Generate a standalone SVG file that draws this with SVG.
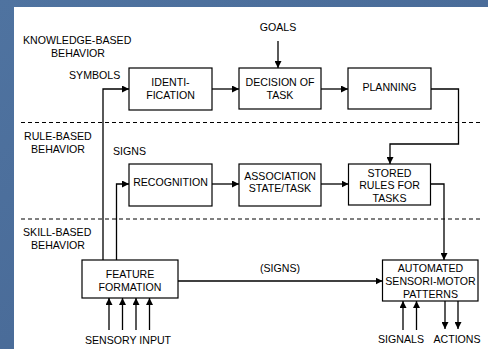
<svg xmlns="http://www.w3.org/2000/svg" width="488" height="349" viewBox="0 0 488 349">
<defs>
  <linearGradient id="bg" x1="0" y1="0" x2="1" y2="1">
    <stop offset="0" stop-color="#4f73a0"/>
    <stop offset="0.5" stop-color="#4a6c99"/>
    <stop offset="1" stop-color="#52779f"/>
  </linearGradient>
  <marker id="ah" viewBox="0 0 10 10" refX="10" refY="5" markerWidth="7" markerHeight="7" markerUnits="userSpaceOnUse" orient="auto">
    <path d="M0,0 L10,5 L0,10 Z" fill="#000"/>
  </marker>
</defs>
<style>
  .box { fill: #fff; stroke: #000; stroke-width: 1.2; }
  .t { font-family: "Liberation Sans", Arial, sans-serif; font-size: 10.6px; fill: #000; }
  .c { text-anchor: middle; }
  .ln { fill: none; stroke: #000; stroke-width: 1.3; }
  .arr { fill: none; stroke: #000; stroke-width: 1.3; marker-end: url(#ah); }
  .dash { stroke: #000; stroke-width: 1; stroke-dasharray: 4 3; }
</style>
<rect x="0" y="0" width="488" height="349" fill="url(#bg)"/>
<rect x="14" y="7" width="474" height="342" fill="#fff"/>

<g id="dividers">
  <line class="dash" x1="21" y1="122.5" x2="480" y2="122.5"/>
  <line class="dash" x1="21" y1="219" x2="480" y2="219"/>
</g>

<g id="level-labels">
  <text class="t" x="23" y="43.5">KNOWLEDGE-BASED</text>
  <text class="t c" x="78" y="56.5">BEHAVIOR</text>
  <text class="t" x="24" y="140">RULE-BASED</text>
  <text class="t c" x="58" y="152.5">BEHAVIOR</text>
  <text class="t" x="23" y="236">SKILL-BASED</text>
  <text class="t c" x="58" y="249">BEHAVIOR</text>
  <text class="t" x="69" y="79">SYMBOLS</text>
  <text class="t" x="113" y="154.5">SIGNS</text>
  <text class="t c" x="278" y="30.5">GOALS</text>
  <text class="t c" x="280" y="272">(SIGNS)</text>
  <text class="t c" x="128" y="344">SENSORY INPUT</text>
  <text class="t c" x="401" y="343">SIGNALS</text>
  <text class="t c" x="457" y="343">ACTIONS</text>
</g>

<g id="identification">
  <rect class="box" x="129" y="68" width="83" height="42"/>
  <text class="t c" x="170.5" y="85.5">IDENTI-</text>
  <text class="t c" x="170.5" y="98.5">FICATION</text>
</g>
<g id="decision">
  <rect class="box" x="239" y="68" width="82" height="41"/>
  <text class="t c" x="280" y="86">DECISION OF</text>
  <text class="t c" x="280" y="98.5">TASK</text>
</g>
<g id="planning">
  <rect class="box" x="348" y="68" width="83" height="41"/>
  <text class="t c" x="389.5" y="91">PLANNING</text>
</g>
<g id="recognition">
  <rect class="box" x="129" y="164" width="83" height="42"/>
  <text class="t c" x="170.5" y="186">RECOGNITION</text>
</g>
<g id="association">
  <rect class="box" x="239" y="164" width="82" height="42"/>
  <text class="t c" x="280" y="180">ASSOCIATION</text>
  <text class="t c" x="280" y="192">STATE/TASK</text>
</g>
<g id="stored-rules">
  <rect class="box" x="348.5" y="164" width="82" height="41"/>
  <text class="t c" x="389.5" y="177">STORED</text>
  <text class="t c" x="389.5" y="189">RULES FOR</text>
  <text class="t c" x="389.5" y="201.5">TASKS</text>
</g>
<g id="feature-formation">
  <rect class="box" x="82" y="260" width="96" height="38"/>
  <text class="t c" x="130" y="277.5">FEATURE</text>
  <text class="t c" x="130" y="290.5">FORMATION</text>
</g>
<g id="automated">
  <rect class="box" x="382.5" y="260" width="95.5" height="41"/>
  <text class="t c" x="430.5" y="272">AUTOMATED</text>
  <text class="t c" x="430.5" y="285">SENSORI-MOTOR</text>
  <text class="t c" x="430.5" y="297.5">PATTERNS</text>
</g>

<g id="connectors">
  <path class="arr" d="M103,260 V89 H129"/>
  <path class="arr" d="M116.5,260 V184 H129"/>
  <path class="arr" d="M212,89 H239"/>
  <path class="arr" d="M321,89 H348"/>
  <path class="arr" d="M278,41 V68"/>
  <path class="arr" d="M431,89 H458.5 V144 H390 V164"/>
  <path class="arr" d="M212,184 H239"/>
  <path class="arr" d="M321,184 H348.5"/>
  <path class="arr" d="M430.5,184 H444 V260"/>
  <path class="arr" d="M178,281 H382.5"/>
  <path class="arr" d="M109,330 V298"/>
  <path class="arr" d="M122.5,330 V298"/>
  <path class="arr" d="M136,330 V298"/>
  <path class="arr" d="M149.5,330 V298"/>
  <path class="arr" d="M403,330 V301"/>
  <path class="arr" d="M416.5,330 V301"/>
  <path class="arr" d="M445,301 V329"/>
  <path class="arr" d="M458,301 V329"/>
</g>
</svg>
